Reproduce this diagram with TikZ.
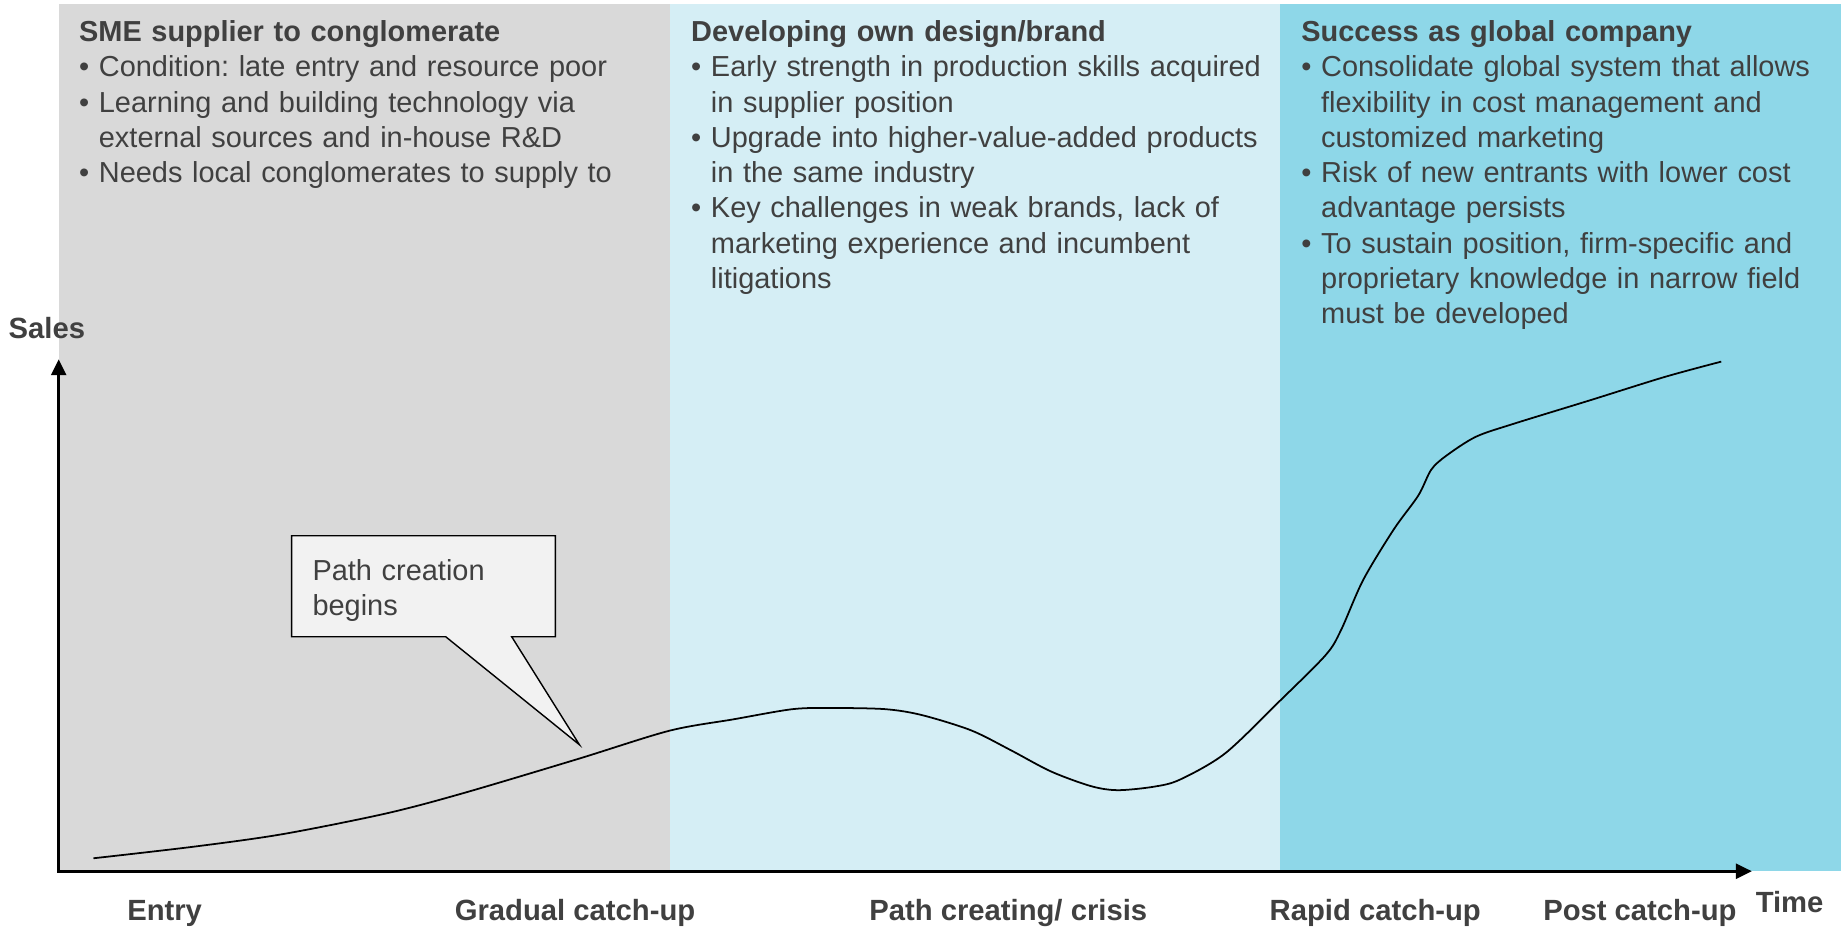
\documentclass[tikz,border=0pt]{standalone}
\usepackage{fontspec}
\setmainfont{Liberation Sans}
\usetikzlibrary{arrows.meta}
\definecolor{panelgray}{HTML}{D9D9D9}
\definecolor{panellight}{HTML}{D5EEF5}
\definecolor{paneldark}{HTML}{8ED7E8}
\definecolor{txt}{HTML}{404040}
\definecolor{callfill}{HTML}{F2F2F2}
\frenchspacing
\newcommand\bitem[1]{\par\setbox0=\hbox{•\ }\hangindent=\wd0 \hangafter=1 \noindent\box0 #1\par}
\tikzset{
  paneltext/.style={anchor=base west, inner sep=0pt, text width=300pt, align=left,
    font=\fontsize{12.32}{15}\selectfont\frenchspacing, text=txt},
  axislabel/.style={anchor=base west, inner sep=0pt,
    font=\fontsize{12.45}{15}\selectfont\bfseries, text=txt},
  axisline/.style={line width=1.15pt, line join=miter,
    {Triangle[length=6.8pt,width=6.4pt]}-{Triangle[length=6.8pt,width=6.4pt]}},
  salescurve/.style={line width=0.75pt, line join=round},
  calloutbox/.style={draw=black, fill=callfill, line width=0.6pt, line join=miter},
}
\begin{document}
\begin{tikzpicture}[x=0.5pt,y=-0.5pt]
\useasboundingbox (0,0) rectangle (1568,791);
% panels
\fill[panelgray] (50,3.4) rectangle (570.5,742);
\fill[panellight] (570.5,3.4) rectangle (1090,742);
\fill[paneldark] (1090,3.4) rectangle (1568,742);
% panel texts
\node[paneltext] (p1) at (67,35.5) {{\bfseries SME supplier to conglomerate}
\bitem{Condition: late entry and resource poor}
\bitem{Learning and building technology via\newline external sources and in-house R\&D}
\bitem{Needs local conglomerates to supply to}};
\node[paneltext] (p2) at (588.3,35.5) {{\bfseries Developing own design/brand}
\bitem{Early strength in production skills acquired\newline in supplier position}
\bitem{Upgrade into higher-value-added products\newline in the same industry}
\bitem{Key challenges in weak brands, lack of\newline marketing experience and incumbent\newline litigations}};
\node[paneltext] (p3) at (1108,35.5) {{\bfseries Success as global company}
\bitem{Consolidate global system that allows\newline flexibility in cost management and\newline customized marketing}
\bitem{Risk of new entrants with lower cost\newline advantage persists}
\bitem{To sustain position, firm-specific and\newline proprietary knowledge in narrow field\newline must be developed}};
% axes
\coordinate (O) at (50,742);
\coordinate (Ytip) at (50,306);
\coordinate (Xtip) at (1492,742);
\draw[axisline] (Ytip) -- (O) -- (Xtip);
\node[axislabel] (sales) at (7,288) {Sales};
\node[axislabel] (time) at (1495,777) {Time};
\node[axislabel] (entry) at (108,784) {Entry};
\node[axislabel] (gradual) at (387,784) {Gradual catch-up};
\node[axislabel] (crisis) at (740,784) {Path creating/ crisis};
\node[axislabel] (rapid) at (1081,784) {Rapid catch-up};
\node[axislabel] (post) at (1314,784) {Post catch-up};
% curve
\draw[salescurve] plot[smooth, tension=0.5] coordinates {
(79.6,731) (166,721) (241,710.4) (329,692.8) (394,675.7) (492,646.5) (570,622.4)
(625,612.6) (675,604) (709,603) (754,604) (785,609) (827,622) (861,639) (895,657)
(929,669.5) (952,673) (983,670) (1005,664) (1043.5,641.6) (1090,597) (1129,558)
(1142,537) (1161,494) (1187,451) (1208,422) (1219,400) (1232,388) (1257,372)
(1289,361) (1354,341) (1418,321) (1466,308)};
% callout
\coordinate (ctip) at (493.5,634.3);
\draw[calloutbox] (248.4,456.3) -- (473,456.3) -- (473,542.3) -- (435.8,542.3)
  -- (ctip) -- (379.6,542.3) -- (248.4,542.3) -- cycle;
\node[paneltext, text width=180pt] (callouttext) at (265.8,494) {Path creation\newline begins};
\end{tikzpicture}
\end{document}
